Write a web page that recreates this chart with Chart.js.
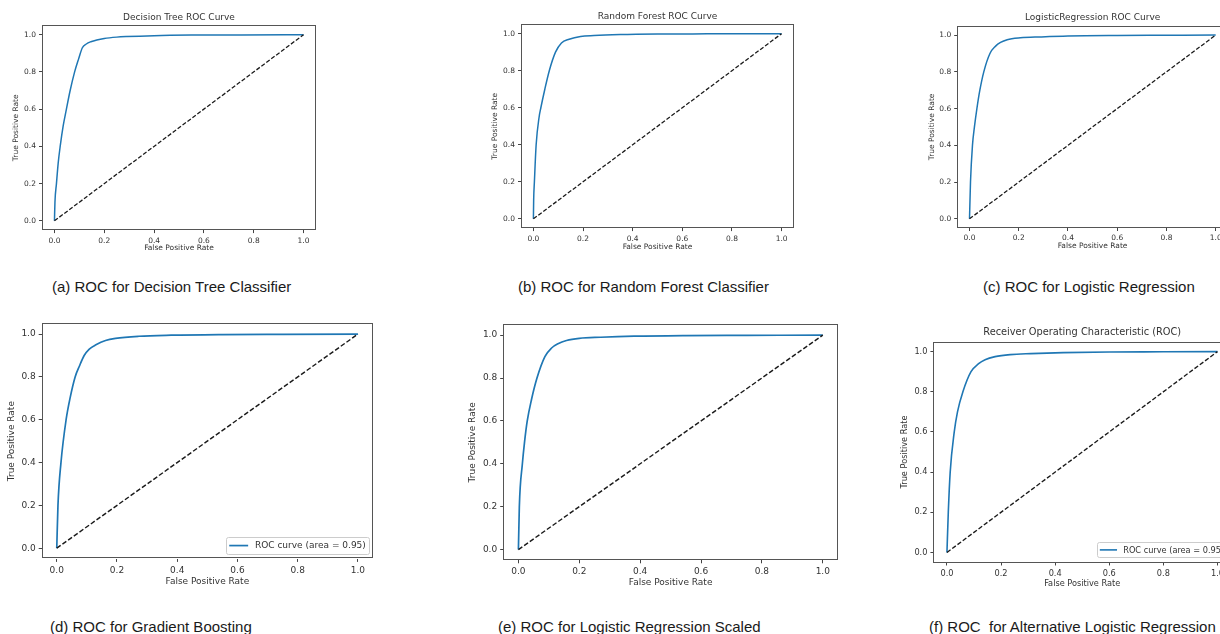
<!DOCTYPE html>
<html>
<head>
<meta charset="utf-8">
<title>ROC curves</title>
<script src="https://cdn.jsdelivr.net/npm/chart.js@4.4.1/dist/chart.umd.min.js"></script>
<style>
  html, body { margin: 0; padding: 0; background: #fff; }
  body { width: 1220px; height: 634px; position: relative; overflow: hidden; }
  canvas { position: absolute; }
  .caption {
    position: absolute;
    font-family: "Liberation Sans", Arial, sans-serif;
    font-size: 15px;
    line-height: 18px;
    color: #1a1a1a;
    white-space: pre;
  }
</style>
</head>
<body>
<script>
// tick positions shared by both axes
const tickValues = [0, 0.2, 0.4, 0.6, 0.8, 1.0];

// chance line
const diagFpr = [0, 1];
const diagTpr = [0, 1];

// (a) decision tree
const treeFpr = [0, 0.002, 0.008, 0.015, 0.023, 0.035, 0.048, 0.063, 0.081, 0.097, 0.112, 0.128, 0.146, 0.17, 0.2, 0.25, 0.29, 0.4, 0.55, 0.75, 1];
const treeTpr = [0, 0.1, 0.2, 0.31, 0.4, 0.51, 0.6, 0.7, 0.8, 0.87, 0.93, 0.95, 0.962, 0.972, 0.98, 0.987, 0.99, 0.995, 0.998, 0.999, 1];

// (b) random forest
const forestFpr = [0, 0.001, 0.004, 0.011, 0.023, 0.03, 0.046, 0.064, 0.089, 0.113, 0.144, 0.19, 0.244, 0.35, 0.5, 0.7, 1];
const forestTpr = [0, 0.1, 0.2, 0.4, 0.55, 0.6, 0.7, 0.8, 0.9, 0.95, 0.97, 0.985, 0.99, 0.995, 0.998, 0.999, 1];

// (c) logistic regression
const logregFpr = [0, 0.004, 0.012, 0.02, 0.03, 0.042, 0.058, 0.083, 0.106, 0.126, 0.153, 0.207, 0.29, 0.4, 0.6, 0.8, 1];
const logregTpr = [0, 0.2, 0.4, 0.5, 0.6, 0.7, 0.8, 0.9, 0.94, 0.96, 0.975, 0.985, 0.99, 0.995, 0.998, 0.999, 1];

// (d) gradient boosting
const gbFpr = [0, 0.004, 0.014, 0.031, 0.044, 0.061, 0.075, 0.091, 0.108, 0.13, 0.162, 0.195, 0.272, 0.38, 0.55, 0.75, 1];
const gbTpr = [0, 0.2, 0.4, 0.6, 0.7, 0.8, 0.85, 0.9, 0.93, 0.95, 0.97, 0.98, 0.99, 0.995, 0.998, 0.999, 1];

// (e) logistic regression, scaled features
const scaledFpr = [0, 0.003, 0.013, 0.02, 0.029, 0.043, 0.061, 0.087, 0.109, 0.13, 0.158, 0.2, 0.27, 0.38, 0.55, 0.75, 1];
const scaledTpr = [0, 0.2, 0.4, 0.5, 0.6, 0.7, 0.8, 0.9, 0.94, 0.96, 0.975, 0.985, 0.99, 0.995, 0.998, 0.999, 1];

// (f) alternative logistic regression
const altFpr = [0, 0.005, 0.012, 0.027, 0.039, 0.059, 0.089, 0.117, 0.141, 0.178, 0.234, 0.31, 0.43, 0.6, 0.8, 1];
const altTpr = [0, 0.2, 0.4, 0.6, 0.7, 0.8, 0.9, 0.94, 0.96, 0.975, 0.985, 0.99, 0.995, 0.998, 0.999, 1];

const aucLabel = 'ROC curve (area = 0.95)';

const FONT = '"DejaVu Sans", sans-serif';
const TEXT = '#333';
const BLUE = '#1f77b4';

// where each subplot sits on the page: axes box [left, top, right, bottom]
const panels = [
  { fpr: treeFpr, tpr: treeTpr, title: 'Decision Tree ROC Curve', caption: '(a) ROC for Decision Tree Classifier',
    box: [41.5, 25, 315.5, 229.6], fs: 7.5, tfs: 9, lw: 1.5, titleY: 17, yTitleX: 16, xTitleY: 248, capX: 52, capY: 287 },
  { fpr: forestFpr, tpr: forestTpr, title: 'Random Forest ROC Curve', caption: '(b) ROC for Random Forest Classifier',
    box: [520.5, 24, 793.5, 227.6], fs: 7.5, tfs: 9, lw: 1.5, titleY: 16, yTitleX: 495, xTitleY: 247, capX: 518, capY: 287 },
  { fpr: logregFpr, tpr: logregTpr, title: 'LogisticRegression ROC Curve', caption: '(c) ROC for Logistic Regression',
    box: [956.7, 25.5, 1227.3, 227.5], fs: 7.5, tfs: 9, lw: 1.5, titleY: 17, yTitleX: 932, xTitleY: 246, capX: 983, capY: 287 },
  { fpr: gbFpr, tpr: gbTpr, title: null, caption: '(d) ROC for Gradient Boosting', legend: true,
    box: [42, 323.3, 373, 559], fs: 9, tfs: 10.8, lw: 1.7, yTitleX: 11.7, xTitleY: 581.7, capX: 50, capY: 627 },
  { fpr: scaledFpr, tpr: scaledTpr, title: null, caption: '(e) ROC for Logistic Regression Scaled',
    box: [503.5, 323.6, 838, 559.4], fs: 9, tfs: 10.8, lw: 1.7, yTitleX: 472.7, xTitleY: 581.7, capX: 498, capY: 627 },
  { fpr: altFpr, tpr: altTpr, title: 'Receiver Operating Characteristic (ROC)', caption: '(f) ROC  for Alternative Logistic Regression', legend: true,
    box: [933.5, 342, 1231.5, 563.4], fs: 8.2, tfs: 9.8, lw: 1.6, titleY: 333.3, yTitleX: 905, xTitleY: 585, capX: 929, capY: 627 }
];

// full rectangle around the plotting area, like matplotlib spines
const axesFrame = {
  id: 'axesFrame',
  afterDatasetsDraw(chart) {
    const { ctx, chartArea: a } = chart;
    ctx.save();
    ctx.strokeStyle = '#555';
    ctx.lineWidth = 1;
    ctx.strokeRect(Math.round(a.left) + 0.5, Math.round(a.top) + 0.5,
      Math.round(a.right - a.left) - 1, Math.round(a.bottom - a.top) - 1);
    ctx.restore();
  }
};

// legend box in the lower right corner of the axes
const lowerRightLegend = {
  id: 'lowerRightLegend',
  afterDraw(chart, args, opts) {
    if (!opts.show) return;
    const ds = chart.data.datasets.find(d => d.label);
    const { ctx, chartArea: a } = chart;
    const fs = opts.fontSize;
    ctx.save();
    ctx.font = fs + 'px ' + FONT;
    const tw = ctx.measureText(ds.label).width;
    const pad = fs * 0.35, lineLen = fs * 2.1, gap = fs * 0.75;
    const w = pad + lineLen + gap + tw + pad;
    const h = fs * 1.85;
    const x = a.right - 4 - w, y = a.bottom - 5 - h;
    ctx.beginPath();
    ctx.roundRect(Math.round(x) + 0.5, Math.round(y) + 0.5, Math.round(w), Math.round(h), 2);
    ctx.fillStyle = 'rgba(255,255,255,0.8)';
    ctx.fill();
    ctx.strokeStyle = '#ccc';
    ctx.lineWidth = 1;
    ctx.stroke();
    const cy = y + h / 2;
    ctx.beginPath();
    ctx.moveTo(x + pad, cy);
    ctx.lineTo(x + pad + lineLen, cy);
    ctx.strokeStyle = ds.borderColor;
    ctx.lineWidth = ds.borderWidth;
    ctx.stroke();
    ctx.fillStyle = TEXT;
    ctx.textBaseline = 'middle';
    ctx.fillText(ds.label, x + pad + lineLen + gap, cy + 0.5);
    ctx.restore();
  }
};

function axis(p, text, isX, fitSize) {
  const font = { family: FONT, size: p.fs };
  return {
    type: 'linear',
    position: isX ? 'bottom' : 'left',
    min: -0.05,
    max: 1.05,
    afterBuildTicks: s => { s.ticks = tickValues.map(v => ({ value: v })); },
    afterFit: s => { if (isX) s.height = fitSize; else s.width = fitSize; },
    ticks: { font, color: TEXT, padding: 3, maxRotation: 0, autoSkip: false, callback: v => v.toFixed(1) },
    grid: { drawOnChartArea: false, drawTicks: true, tickLength: 3, tickColor: '#444', lineWidth: 1 },
    border: { display: false },
    title: { display: true, text, font, color: TEXT, padding: 0 }
  };
}

panels.forEach(p => {
  const [bl, bt, br, bb] = p.box;
  const lh = p.fs * 1.2;
  const tlh = p.tfs * 1.2;
  const left = p.yTitleX - lh / 2;
  const top = p.title ? p.titleY - tlh / 2 : bt - 8;
  const bottom = p.xTitleY + lh / 2;
  const right = br + 6;

  const canvas = document.createElement('canvas');
  const w = Math.round(right - left), h = Math.round(bottom - top);
  canvas.width = w;
  canvas.height = h;
  canvas.style.left = left + 'px';
  canvas.style.top = top + 'px';
  canvas.style.width = w + 'px';
  canvas.style.height = h + 'px';
  document.body.appendChild(canvas);

  new Chart(canvas, {
    type: 'line',
    data: {
      datasets: [
        {
          label: p.legend ? aucLabel : '',
          data: p.fpr.map((x, i) => ({ x, y: p.tpr[i] })),
          borderColor: BLUE,
          borderWidth: p.lw,
          pointRadius: 0,
          cubicInterpolationMode: 'monotone',
          fill: false,
          order: 1
        },
        {
          data: diagFpr.map((x, i) => ({ x, y: diagTpr[i] })),
          borderColor: '#1a1a1a',
          borderWidth: p.lw * 0.85,
          borderDash: [p.lw * 2.8, p.lw * 1.3],
          pointRadius: 0,
          fill: false,
          order: 0
        }
      ]
    },
    options: {
      responsive: false,
      devicePixelRatio: 1,
      animation: false,
      parsing: false,
      layout: { padding: { left: 0, right: 6, top: p.title ? 0 : 8, bottom: 0 } },
      scales: {
        x: axis(p, 'False Positive Rate', true, bottom - bb),
        y: axis(p, 'True Positive Rate', false, bl - left)
      },
      plugins: {
        legend: { display: false },
        tooltip: { enabled: false },
        title: {
          display: !!p.title,
          text: p.title || '',
          fullSize: false,
          color: TEXT,
          font: { family: FONT, size: p.tfs, weight: 'normal' },
          padding: { top: 0, bottom: p.title ? bt - p.titleY - tlh / 2 : 0 }
        },
        lowerRightLegend: { show: !!p.legend, fontSize: p.fs }
      }
    },
    plugins: [axesFrame, lowerRightLegend]
  });

  const cap = document.createElement('div');
  cap.className = 'caption';
  cap.textContent = p.caption;
  cap.style.left = p.capX + 'px';
  cap.style.top = (p.capY - 9) + 'px';
  document.body.appendChild(cap);
});
</script>
</body>
</html>
